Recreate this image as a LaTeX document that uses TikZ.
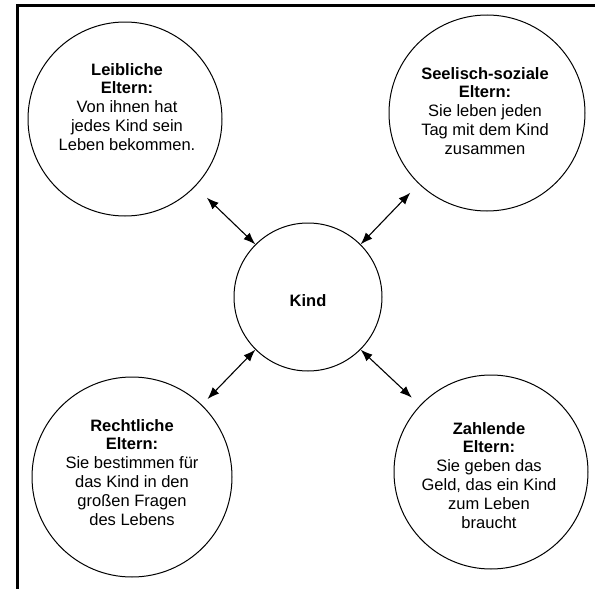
\documentclass[tikz,border=0pt]{standalone}
\usepackage{fontspec}
\setmainfont{Liberation Sans}
\usetikzlibrary{arrows.meta}
\begin{document}
\begin{tikzpicture}[x=1pt,y=-1pt,
  bubble/.style={draw=black,line width=1pt,circle,inner sep=0pt,minimum size=#1},
  txt/.style={align=center,inner sep=0pt,anchor=north,font=\fontsize{16.5}{18.8}\selectfont},
  link/.style={{Latex[length=12pt,width=9pt]}-{Latex[length=12pt,width=9pt]},line width=1.1pt},
  frame/.style={line width=2.4pt}]
\useasboundingbox (0,0) rectangle (595,589);
\draw[frame] (17.3,589) -- (17.3,5.3) -- (595,5.3);
\node[bubble=194pt] (leib) at (125,119) {};
\node[bubble=196pt] (seel) at (487,113) {};
\node[bubble=200pt] (recht) at (132,477) {};
\node[bubble=194pt] (zahl) at (491,472) {};
\node[bubble=148pt] (kind) at (308,297) {};
\node[txt] (tleib) at (127,63) {\textbf{Leibliche}\\\textbf{Eltern:}\\Von ihnen hat\\jedes Kind sein\\Leben bekommen.};
\node[txt] (tseel) at (485,67) {\textbf{Seelisch-soziale}\\\textbf{Eltern:}\\Sie leben jeden\\Tag mit dem Kind\\zusammen};
\node[txt] (trecht) at (132,419) {\textbf{Rechtliche}\\\textbf{Eltern:}\\Sie bestimmen für\\das Kind in den\\großen Fragen\\des Lebens};
\node[txt] (tzahl) at (489,422) {\textbf{Zahlende}\\\textbf{Eltern:}\\Sie geben das\\Geld, das ein Kind\\zum Leben\\braucht};
\node[anchor=base,inner sep=0pt,font=\fontsize{16.5}{18.8}\selectfont\bfseries] (tkind) at (308,306) {Kind};
\draw[link,shorten >=16pt] (kind.135) -- (leib);
\draw[link,shorten >=12pt] (kind.45) -- (seel);
\draw[link,shorten >=8pt] (kind.225) -- (recht);
\draw[link,shorten >=11pt] (kind.-45) -- (zahl);
\end{tikzpicture}
\end{document}
